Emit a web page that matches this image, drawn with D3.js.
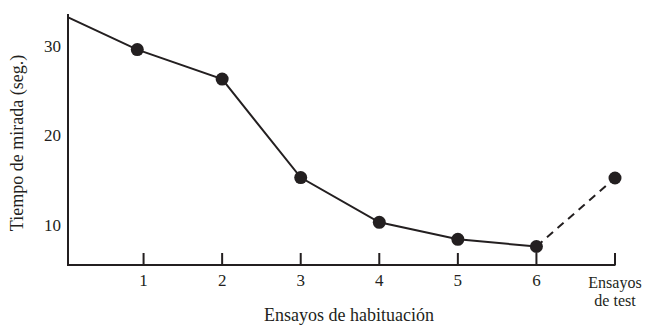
<!DOCTYPE html>
<html>
<head>
<meta charset="utf-8">
<script src="https://cdn.jsdelivr.net/npm/d3@7"></script>
<style>
  body { margin: 0; background: #fff; }
  text { font-family: "Liberation Serif", "Times New Roman", serif; fill: #231f20; }
</style>
</head>
<body>
<svg id="chart" width="653" height="327"></svg>
<script>
// Data
const xTickValues = [1, 2, 3, 4, 5, 6, 7];
const xTickLabels = ["1", "2", "3", "4", "5", "6", "Ensayos\nde test"];
const yTickValues = [10, 20, 30];
// habituation trials (solid line); first entry is the line start at the axis
const habX = [0.04, 0.92, 2, 3, 4, 5, 6];
const habY = [33.2, 29.6, 26.3, 15.3, 10.3, 8.4, 7.6];
const habMarker = [false, true, true, true, true, true, true];
// test trial (dashed line from trial 6)
const testX = [6, 7];
const testY = [7.6, 15.25];

const svg = d3.select("#chart");
const ink = "#231f20";

const x = d3.scaleLinear().domain([0, 7]).range([65, 615]);
const y = d3.scaleLinear().domain([10, 30]).range([225, 46]);

const axisLeft = 68, axisBottom = 265, axisTop = 14, axisRight = 615.5;

// axis lines
svg.append("path")
  .attr("d", `M${axisLeft},${axisTop}V${axisBottom}H${axisRight}`)
  .attr("fill", "none").attr("stroke", ink).attr("stroke-width", 2);

// x ticks (upward)
const xt = svg.append("g");
xTickValues.forEach((v, i) => {
  xt.append("line")
    .attr("x1", x(v)).attr("x2", x(v))
    .attr("y1", axisBottom).attr("y2", axisBottom - 12)
    .attr("stroke", ink).attr("stroke-width", 2);
  const lines = xTickLabels[i].split("\n");
  lines.forEach((l, j) => {
    xt.append("text")
      .attr("x", x(v))
      .attr("y", lines.length > 1 ? axisBottom + 23 + j * 18 : axisBottom + 21)
      .attr("text-anchor", "middle")
      .attr("font-size", lines.length > 1 ? 16 : 17)
      .text(l);
  });
});

// y tick labels (no tick marks)
yTickValues.forEach(v => {
  svg.append("text")
    .attr("x", axisLeft - 7).attr("y", y(v))
    .attr("dy", "0.35em")
    .attr("text-anchor", "end").attr("font-size", 17)
    .text(v);
});

// axis titles
svg.append("text")
  .attr("x", 349).attr("y", 321)
  .attr("text-anchor", "middle").attr("font-size", 18)
  .text("Ensayos de habituación");
svg.append("text")
  .attr("transform", `translate(23,143) rotate(-90)`)
  .attr("text-anchor", "middle").attr("font-size", 18)
  .text("Tiempo de mirada (seg.)");

const line = d3.line().x(d => x(d[0])).y(d => y(d[1]));

// solid habituation line
svg.append("path")
  .attr("d", line(habX.map((v, i) => [v, habY[i]])))
  .attr("fill", "none").attr("stroke", ink).attr("stroke-width", 2);

// dashed test line
svg.append("path")
  .attr("d", line(testX.map((v, i) => [v, testY[i]])))
  .attr("fill", "none").attr("stroke", ink).attr("stroke-width", 2)
  .attr("stroke-dasharray", "8,6");

// markers
const pts = habX.map((v, i) => ({ x: v, y: habY[i], m: habMarker[i] })).filter(d => d.m)
  .concat([{ x: testX[1], y: testY[1] }]);
svg.selectAll("circle.pt").data(pts).enter().append("circle")
  .attr("class", "pt")
  .attr("cx", d => x(d.x)).attr("cy", d => y(d.y)).attr("r", 6.5)
  .attr("fill", ink);
</script>
</body>
</html>
